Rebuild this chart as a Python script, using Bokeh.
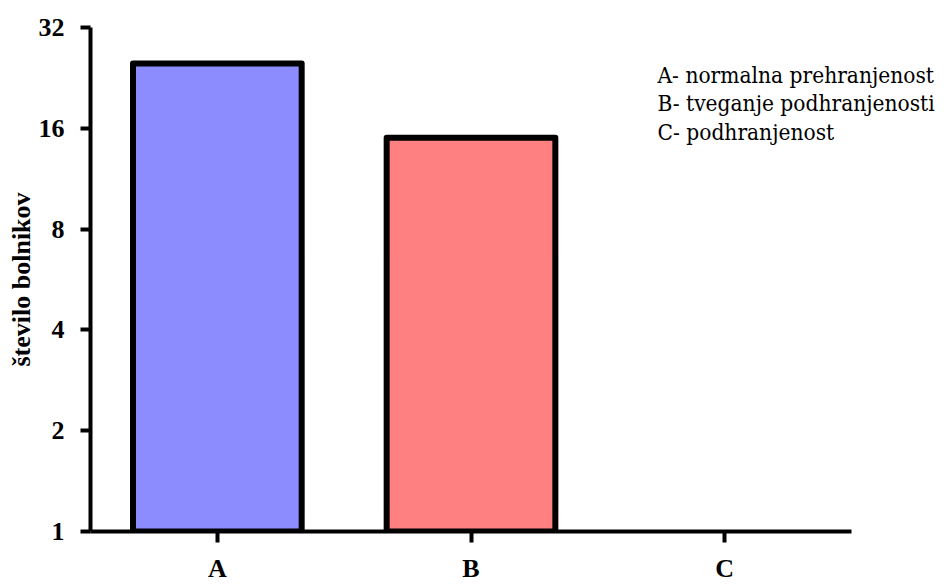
from bokeh.plotting import figure
from bokeh.models import Range1d, FixedTicker, Label, ColumnDataSource, BasicTickFormatter
from bokeh.embed import file_html
from bokeh.resources import INLINE

categories = ["A", "B", "C"]
counts = [25, 15, 0]
bar_colors = ["#8C8CFF", "#FF8080", "#80FF80"]
y_ticks = [1, 2, 4, 8, 16, 32]
legend_lines = ["A- normalna prehranjenost", "B- tveganje podhranjenosti", "C- podhranjenost"]
y_label = "število bolnikov"

FONT = "Liberation Serif"
LEGEND_FONT = "DejaVu Serif Condensed"

x_pos = [i + 0.5 for i in range(len(categories))]

# frame spans to the right edge (legend text); x axis is bounded to the categories
p = figure(width=944, height=585, x_range=Range1d(0, 3.3666), y_range=Range1d(1, 32),
           y_axis_type="log", output_backend="svg", toolbar_location=None,
           min_border_left=90, min_border_right=0, min_border_top=27, min_border_bottom=53)

shown = [i for i, c in enumerate(counts) if c > 0]
src = ColumnDataSource(dict(
    x=[x_pos[i] for i in shown],
    top=[counts[i] for i in shown],
    color=[bar_colors[i] for i in shown],
))
p.vbar(x="x", top="top", bottom=1, width=0.665, source=src, fill_color="color",
       line_color="black", line_width=6, line_join="round")

p.xgrid.visible = False
p.ygrid.visible = False
p.outline_line_color = None

for ax in (p.xaxis[0], p.yaxis[0]):
    ax.axis_line_width = 4
    ax.axis_line_color = "black"
    ax.major_tick_line_width = 4
    ax.major_tick_line_color = "black"
    ax.major_tick_in = 0
    ax.minor_tick_line_color = None
    ax.major_label_text_font = FONT
    ax.major_label_text_font_style = "bold"
    ax.major_label_text_font_size = "26px"
    ax.major_label_text_color = "black"

p.xaxis.bounds = (0, len(categories))
p.xaxis.ticker = FixedTicker(ticks=x_pos, minor_ticks=[])
p.xaxis.major_label_overrides = {x: c for x, c in zip(x_pos, categories)}
p.xaxis.major_tick_out = 11
p.xaxis.major_label_standoff = 11

p.yaxis.ticker = FixedTicker(ticks=y_ticks, minor_ticks=[])
p.yaxis.formatter = BasicTickFormatter()
p.yaxis.major_tick_out = 10
p.yaxis.major_label_standoff = 16
p.yaxis.axis_label = y_label
p.yaxis.axis_label_text_font = FONT
p.yaxis.axis_label_text_font_style = "bold"
p.yaxis.axis_label_text_font_size = "26px"
p.yaxis.axis_label_text_color = "black"
p.yaxis.axis_label_standoff = 0

for i, t in enumerate(legend_lines):
    p.add_layout(Label(x=567, y=457 - i * 28.5, x_units="screen", y_units="screen", text=t,
                       text_font=LEGEND_FONT, text_font_size="22.5px",
                       text_baseline="alphabetic", text_color="black"))

open("out.html", "w").write(file_html(p, INLINE))
